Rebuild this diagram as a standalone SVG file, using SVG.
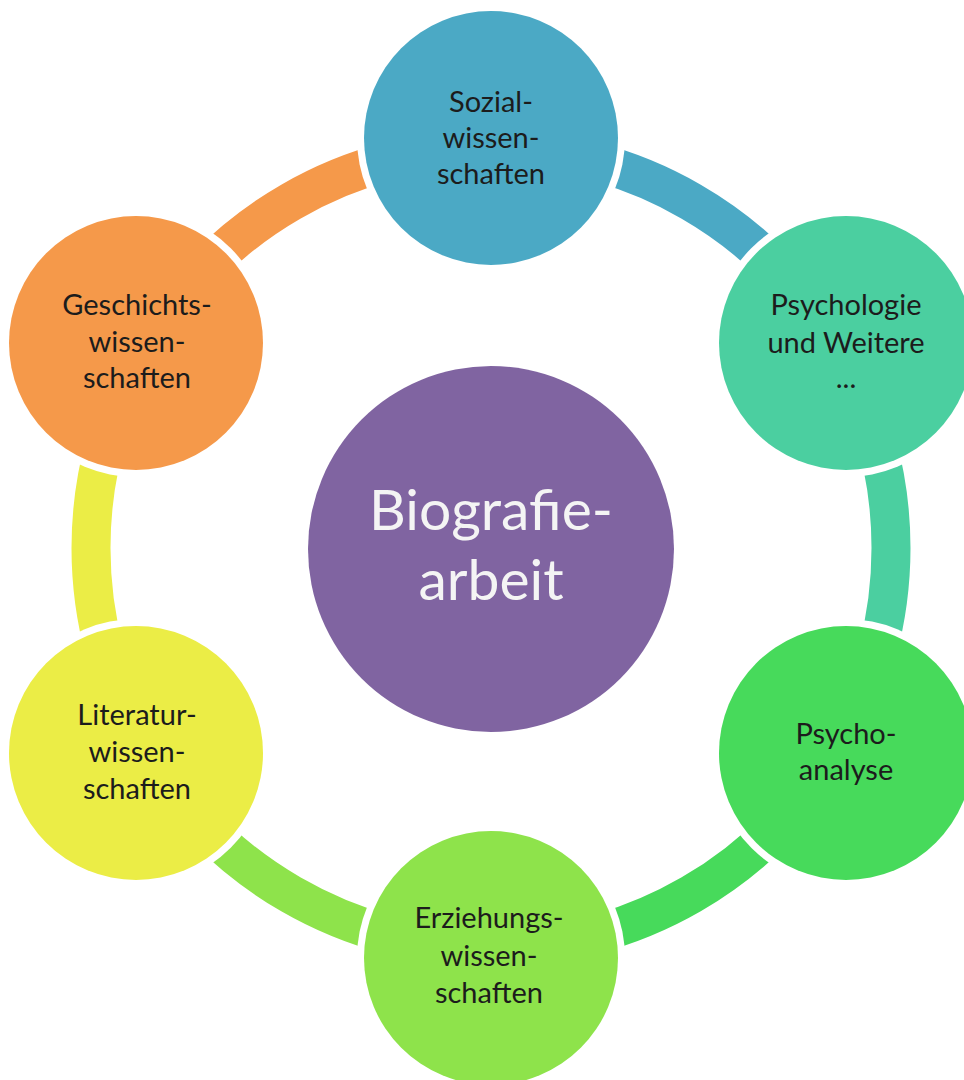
<svg xmlns="http://www.w3.org/2000/svg" width="964" height="1080" viewBox="0 0 964 1080">
  <style>
    .ring { fill: none; stroke-width: 39; }
    .halo { fill: #ffffff; }
    .lbl { font-family: Lato, "Open Sans", "Liberation Sans", sans-serif; font-size: 29px; fill: #1c1c1c; text-anchor: middle; }
    .center { font-family: Lato, "Open Sans", "Liberation Sans", sans-serif; font-size: 57px; fill: #f4f4f4; text-anchor: middle; }
  </style>
  <rect width="964" height="1080" fill="#ffffff"/>
  <g id="connectors">
    <path class="ring" stroke="#4BA9C5" d="M 491 148 A 400 400 0 0 1 837.41 348"/>
    <path class="ring" stroke="#4BCFA0" d="M 837.41 348 A 400 400 0 0 1 837.41 748"/>
    <path class="ring" stroke="#47DA5B" d="M 837.41 748 A 400 400 0 0 1 491 948"/>
    <path class="ring" stroke="#8EE34B" d="M 491 948 A 400 400 0 0 1 144.59 748"/>
    <path class="ring" stroke="#EBED46" d="M 144.59 748 A 400 400 0 0 1 144.59 348"/>
    <path class="ring" stroke="#F5994A" d="M 144.59 348 A 400 400 0 0 1 491 148"/>
  </g>
  <g id="node-center">
    <circle cx="491" cy="549" r="183" fill="#8064A1"/>
    <text class="center" x="491" y="530">Biografie-</text>
    <text class="center" x="491" y="600">arbeit</text>
  </g>
  <g id="node-sozial">
    <circle class="halo" cx="491" cy="138" r="134"/>
    <circle cx="491" cy="138" r="127" fill="#4BA9C5"/>
    <text class="lbl" x="491" y="112">Sozial-</text>
    <text class="lbl" x="491" y="148">wissen-</text>
    <text class="lbl" x="491" y="184">schaften</text>
  </g>
  <g id="node-psychologie">
    <circle class="halo" cx="846" cy="343" r="134"/>
    <circle cx="846" cy="343" r="127" fill="#4BCFA0"/>
    <text class="lbl" x="846" y="315">Psychologie</text>
    <text class="lbl" x="846" y="353">und Weitere</text>
    <text class="lbl" x="846" y="388">...</text>
  </g>
  <g id="node-psychoanalyse">
    <circle class="halo" cx="846" cy="753" r="134"/>
    <circle cx="846" cy="753" r="127" fill="#47DA5B"/>
    <text class="lbl" x="846" y="744">Psycho-</text>
    <text class="lbl" x="846" y="780">analyse</text>
  </g>
  <g id="node-erziehung">
    <circle class="halo" cx="491" cy="958" r="134"/>
    <circle cx="491" cy="958" r="127" fill="#8EE34B"/>
    <text class="lbl" x="489" y="928">Erziehungs-</text>
    <text class="lbl" x="489" y="966">wissen-</text>
    <text class="lbl" x="489" y="1003">schaften</text>
  </g>
  <g id="node-literatur">
    <circle class="halo" cx="136" cy="753" r="134"/>
    <circle cx="136" cy="753" r="127" fill="#EBED46"/>
    <text class="lbl" x="137" y="725">Literatur-</text>
    <text class="lbl" x="137" y="762">wissen-</text>
    <text class="lbl" x="137" y="799">schaften</text>
  </g>
  <g id="node-geschichte">
    <circle class="halo" cx="136" cy="343" r="134"/>
    <circle cx="136" cy="343" r="127" fill="#F5994A"/>
    <text class="lbl" x="137" y="315">Geschichts-</text>
    <text class="lbl" x="137" y="352">wissen-</text>
    <text class="lbl" x="137" y="388">schaften</text>
  </g>
</svg>
